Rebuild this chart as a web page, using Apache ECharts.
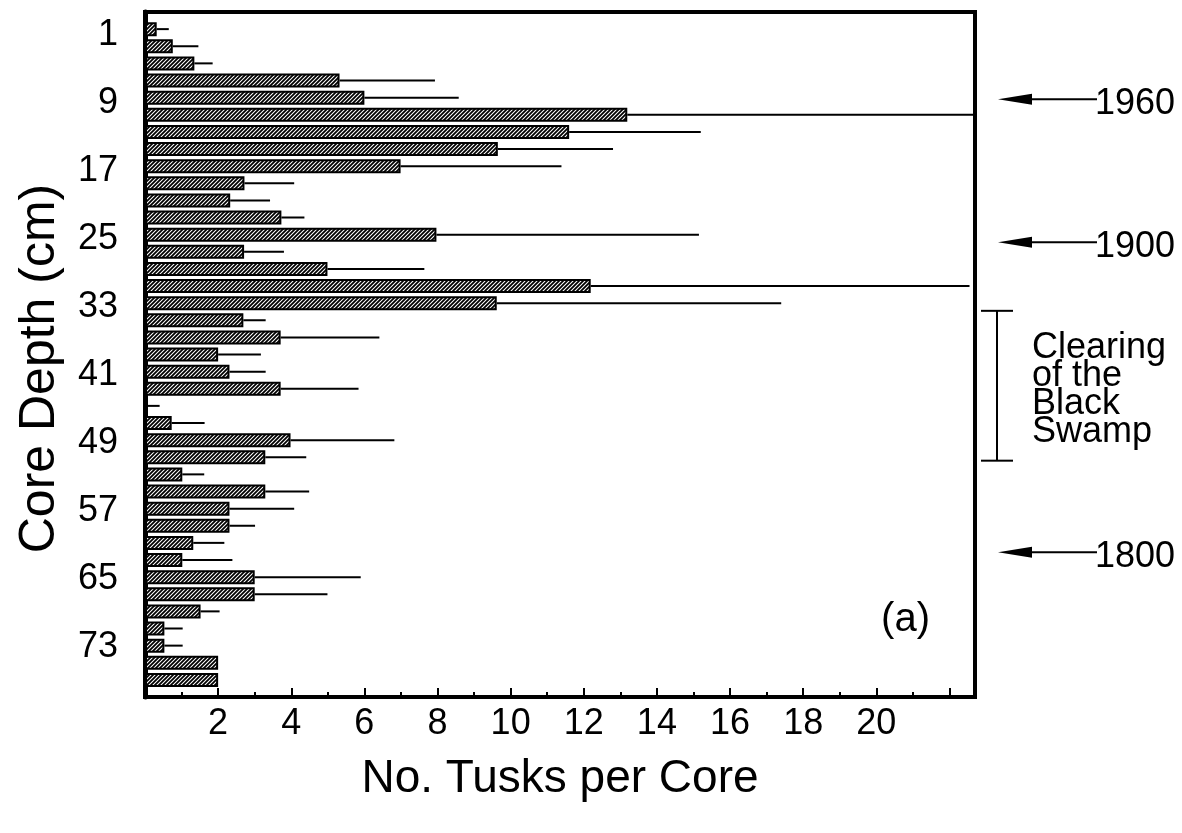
<!DOCTYPE html>
<html>
<head>
<meta charset="utf-8">
<script src="https://cdn.jsdelivr.net/npm/echarts@6/dist/echarts.min.js"></script>
<style>
  html, body { margin: 0; padding: 0; background: #fff; }
  #chart { width: 1182px; height: 833px; }
</style>
</head>
<body>
<div id="chart"></div>
<script>
// core depth (cm) of each sample, one bar per 2 cm
var depths = [1, 3, 5, 7, 9, 11, 13, 15, 17, 19, 21, 23, 25, 27, 29, 31, 33, 35, 37, 39,
              41, 43, 45, 47, 49, 51, 53, 55, 57, 59, 61, 63, 65, 67, 69, 71, 73, 75, 77];
// mean number of tusks per core
var tusks = [0.32, 0.76, 1.35, 5.32, 6.0, 13.19, 11.6, 9.65, 6.99, 2.72, 2.33, 3.73, 7.97, 2.71, 4.99, 12.19, 9.62, 2.69, 3.71, 2.0,
             2.31, 3.71, 0, 0.73, 3.98, 3.29, 1.02, 3.29, 2.31, 2.31, 1.32, 1.02, 3.0, 3.0, 1.52, 0.53, 0.53, 2.0, 2.0];
// error (one side) drawn to the right of each bar
var errs = [0.33, 0.70, 0.50, 2.61, 2.58, 9.8, 3.6, 3.15, 4.4, 1.36, 1.09, 0.63, 7.18, 1.09, 2.65, 10.36, 7.78, 0.61, 2.7, 1.17,
            0.99, 2.13, 0.4, 0.9, 2.84, 1.12, 0.6, 1.2, 1.77, 0.7, 0.85, 1.37, 2.9, 1.99, 0.52, 0.5, 0.5, 0, 0];

var yLabels = [1, 9, 17, 25, 33, 41, 49, 57, 65, 73];
var xLabels = [2, 4, 6, 8, 10, 12, 14, 16, 18, 20];

// dated horizons on the right
var dateYears = ['1960', '1900', '1800'];
var dateDepths = [9.2, 25.9, 62.1];
var clearingDepths = [33.9, 51.4];
var clearingText = 'Clearing\nof the\nBlack\nSwamp';

// category list padded with one empty slot on each end
var cats = ['-1'].concat(depths.map(String)).concat(['79']);

function makeHatch() {
  var c = document.createElement('canvas');
  c.width = 4; c.height = 4;
  var g = c.getContext('2d');
  g.fillStyle = '#fff';
  g.fillRect(0, 0, 4, 4);
  g.strokeStyle = '#000';
  g.lineWidth = 1.8;
  g.beginPath();
  g.moveTo(0, 4); g.lineTo(4, 0);
  g.moveTo(-1, 1); g.lineTo(1, -1);
  g.moveTo(3, 5); g.lineTo(5, 3);
  g.stroke();
  return c;
}

var font = 'Liberation Sans, Arial, sans-serif';
var chart = echarts.init(document.getElementById('chart'));

var option = {
  backgroundColor: '#fff',
  animation: false,
  grid: {
    left: 145, right: 207, top: 12, bottom: 136,
    show: true, borderColor: '#000', borderWidth: 4
  },
  xAxis: {
    type: 'value',
    min: 0, max: 22.7, interval: 2,
    splitLine: { show: false },
    axisLine: { onZero: false, lineStyle: { color: '#000', width: 4 } },
    axisTick: { inside: true, length: 9, lineStyle: { color: '#000', width: 2 } },
    minorTick: { show: true, splitNumber: 2, length: 5, lineStyle: { color: '#000', width: 2 } },
    axisLabel: {
      color: '#000', fontFamily: font, fontSize: 36, margin: 9,
      formatter: function (v) { return xLabels.indexOf(v) >= 0 ? String(v) : ''; }
    },
    name: 'No. Tusks per Core',
    nameLocation: 'middle',
    nameGap: 59,
    nameTextStyle: { color: '#000', fontFamily: font, fontSize: 46 }
  },
  yAxis: [{
    type: 'category',
    data: cats,
    inverse: true,
    boundaryGap: false,
    axisLine: { onZero: false, lineStyle: { color: '#000', width: 5 } },
    axisTick: { show: false },
    axisLabel: { show: false },
    name: 'Core Depth (cm)',
    nameLocation: 'middle',
    nameGap: 80,
    nameRotate: 90,
    nameTextStyle: { color: '#000', fontFamily: font, fontSize: 50, padding: [0, 28, 0, 0] }
  }, {
    // depth scale used for the tick labels
    type: 'value',
    min: -1.7, max: 78.9,
    inverse: true,
    position: 'left',
    splitLine: { show: false },
    axisLine: { show: false },
    axisTick: { show: false },
    axisLabel: {
      color: '#000', fontFamily: font, fontSize: 36, margin: 27,
      customValues: yLabels
    }
  }],
  series: [{
    type: 'bar',
    yAxisIndex: 0,
    barWidth: 14,
    data: tusks.map(function (v, i) { return [v, String(depths[i])]; }),
    itemStyle: {
      color: { image: makeHatch(), repeat: 'repeat' },
      borderColor: '#000',
      borderWidth: 2
    }
  }, {
    type: 'custom',
    yAxisIndex: 0,
    encode: { x: 0, y: 1 },
    data: tusks.map(function (v, i) { return [v, String(depths[i]), errs[i]]; }),
    renderItem: function (params, api) {
      var sd = api.value(2);
      if (!sd) return null;
      var p0 = api.coord([api.value(0), api.value(1)]);
      var p1 = api.coord([api.value(0) + sd, api.value(1)]);
      var right = params.coordSys.x + params.coordSys.width;
      return {
        type: 'line',
        shape: { x1: p0[0], y1: p0[1], x2: Math.min(p1[0], right), y2: p1[1] },
        style: { stroke: '#000', lineWidth: 2 }
      };
    },
    z: 3
  }]
};

chart.setOption(option);

// annotations outside the plot, placed from the bar depth scale
var edge = chart.convertToPixel({ xAxisIndex: 0 }, 22.7);
var depthPx = function (d) {
  var a = chart.convertToPixel({ yAxisIndex: 0 }, 0);
  var b = chart.convertToPixel({ yAxisIndex: 0 }, 1);
  return a + (d + 1) * (b - a) / 2;
};
var gfx = [];
dateDepths.forEach(function (d, i) {
  var y = depthPx(d);
  gfx.push({
    type: 'polygon',
    shape: { points: [[edge + 23, y], [edge + 57, y - 5.5], [edge + 57, y + 5.5]] },
    style: { fill: '#000' }
  });
  gfx.push({
    type: 'line',
    shape: { x1: edge + 55, y1: y, x2: edge + 122, y2: y },
    style: { stroke: '#000', lineWidth: 2 }
  });
  gfx.push({
    type: 'text',
    x: edge + 120, y: y + 5,
    style: { text: dateYears[i], fill: '#000', font: '36px ' + font, textVerticalAlign: 'middle' }
  });
});

var yTop = depthPx(clearingDepths[0]);
var yBot = depthPx(clearingDepths[1]);
gfx.push({ type: 'line', shape: { x1: edge + 22, y1: yTop, x2: edge + 22, y2: yBot }, style: { stroke: '#000', lineWidth: 2 } });
gfx.push({ type: 'line', shape: { x1: edge + 6, y1: yTop, x2: edge + 38, y2: yTop }, style: { stroke: '#000', lineWidth: 2 } });
gfx.push({ type: 'line', shape: { x1: edge + 6, y1: yBot, x2: edge + 38, y2: yBot }, style: { stroke: '#000', lineWidth: 2 } });
gfx.push({
  type: 'text',
  x: edge + 57, y: (yTop + yBot) / 2 + 4,
  style: { text: clearingText, fill: '#000', font: '36px ' + font, lineHeight: 28, textVerticalAlign: 'middle' }
});

gfx.push({
  type: 'text',
  x: chart.convertToPixel({ xAxisIndex: 0 }, 20.8),
  y: depthPx(70),
  style: { text: '(a)', fill: '#000', font: '40px ' + font, textAlign: 'center', textVerticalAlign: 'middle' }
});

chart.setOption({ graphic: gfx });
window.addEventListener('resize', function () { chart.resize(); });
</script>
</body>
</html>
